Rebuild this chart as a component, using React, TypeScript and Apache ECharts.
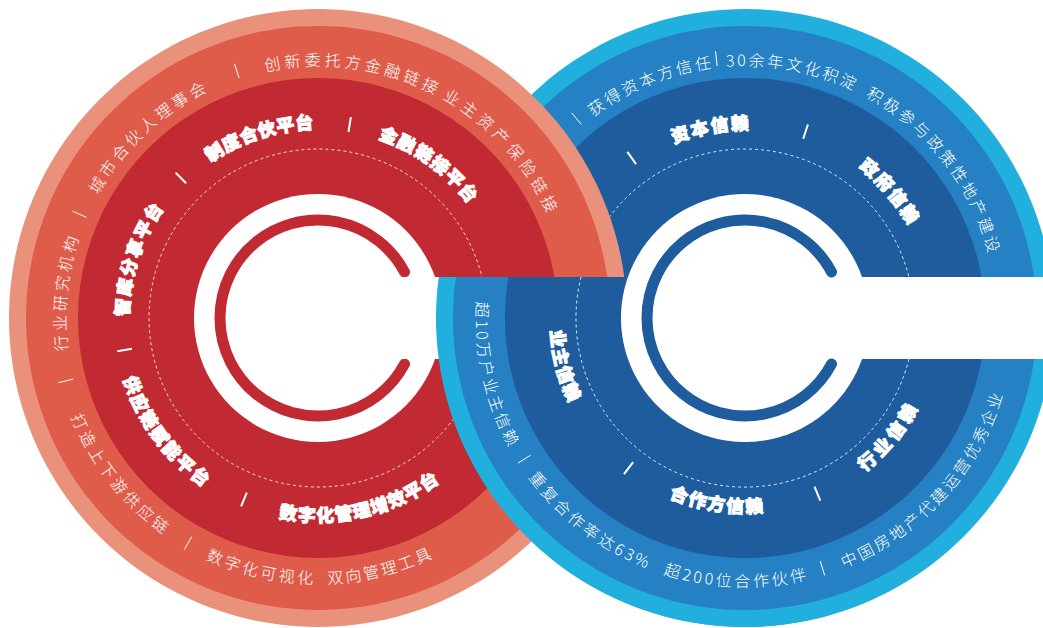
import React, { useEffect, useRef } from "react";
import * as echarts from "echarts";

// ---------- data (texts) ----------
const redOuterUpperTexts = ["行业研究机构", "城市合伙人理事会", "创新委托方金融链接", "业主资产保险链接"];
const redOuterLowerTexts = ["打造上下游供应链", "数字化可视化", "双向管理工具"];
const redInnerUpperTexts = ["智库分享平台", "制度合伙平台", "金融链接平台"];
const redInnerLowerTexts = ["供应链赋能平台", "数字化管理增效平台"];

const blueOuterUpperTexts = ["获得资本方信任", "30余年文化积淀", "积极参与政策性地产建设"];
const blueOuterLowerTexts = ["超10万户业主信赖", "重复合作率达63%", "超200位合作伙伴", "中国房地产代建运营优秀企业"];
const blueInnerUpperTexts = ["资本信赖", "政府信赖"];
const blueInnerLowerTexts = ["业主信赖", "合作方信赖", "行业信赖"];

// ---------- layout (angles in degrees, screen clockwise, 0 = right) ----------
const redOuterUpperStart = [174.4, 211, 259.8, 301.3];
const redOuterUpperStep = [4.44, 4.44, 4.5, 4.63];
const redOuterLowerStart = [156.5, 113.3, 86.2];
const redOuterLowerStep = [4.16, 4.1, 4.0];
const redOuterSep = [166, 203.5, 251.8, 120];
const redInnerUpperStart = [183.2, 238, 291.2];
const redInnerUpperStep = [5.9, 5.6, 5.8];
const redInnerLowerStart = [160.2, 98.6];
const redInnerLowerStep = [5.6, 5.34];
const redInnerSep = [225.6, 279.3, 170.6, 112.2];

const blueOuterUpperStart = [234.8, 266.7, 300.3];
const blueOuterUpperStep = [4.3, 4.2, 4.3];
const blueOuterLowerStart = [181.8, 142, 106, 66.7];
const blueOuterLowerStep = [4.0, 4.06, 4.06, 4.03];
const blueOuterSep = [229.8, 263.7, 147.4, 72.8];
const blueInnerUpperStart = [250.5, 309.7];
const blueInnerUpperStep = [6.0, 6.0];
const blueInnerLowerStart = [173.7, 110.4, 49.6];
const blueInnerLowerStep = [5.6, 5.8, 6.4];
const blueInnerSep = [234.7, 288, 127.8, 67.6];

const RED = { cx: 318, cy: 318, light: "#E9917B", mid: "#E05C4A", dark: "#C12A32" };
const BLUE = { cx: 745, cy: 318, light: "#21B0DE", mid: "#2581C3", dark: "#1E5C9E" };
const R_OUT = 309, R_MID = 292, R_DARK = 240, R_DASH = 169, R_HOLE = 124, R_C = 98;
const SLOT = 41;
const FONT = "'Noto Sans CJK SC', 'Noto Sans', sans-serif";
const deg = Math.PI / 180;

function charW(ch: string) {
  if (ch === " ") return 0.5;
  if (/[0-9]/.test(ch)) return 0.6;
  if (ch === "%") return 0.85;
  return 1;
}

function buildElements() {
  const els: any[] = [];

  const disc = (cx: number, cy: number, r: number, fill: string) =>
    els.push({ type: "circle", shape: { cx, cy, r }, style: { fill } });

  const segment = (cx: number, cy: number, r: number, yMin: number, fill: string) => {
    const a1 = Math.asin((yMin - cy) / r);
    const a2 = Math.PI - a1;
    const pts: number[][] = [];
    const n = 160;
    for (let i = 0; i <= n; i++) {
      const a = a1 + ((a2 - a1) * i) / n;
      pts.push([cx + r * Math.cos(a), cy + r * Math.sin(a)]);
    }
    els.push({ type: "polygon", shape: { points: pts }, style: { fill } });
  };

  const dashArc = (cx: number, cy: number, a: number, b: number) =>
    els.push({
      type: "arc",
      shape: { cx, cy, r: R_DASH, startAngle: a * deg, endAngle: b * deg, clockwise: true },
      style: { stroke: "rgba(255,255,255,0.85)", lineWidth: 1, lineDash: [3, 3], fill: "none" },
    });

  const cArc = (cx: number, cy: number, color: string) =>
    els.push({
      type: "arc",
      shape: { cx, cy, r: R_C, startAngle: 28 * deg, endAngle: 332 * deg, clockwise: true },
      style: { stroke: color, lineWidth: 11, lineCap: "round", fill: "none" },
    });

  const sep = (cx: number, cy: number, r: number, phi: number, len: number, w: number) => {
    const c = Math.cos(phi * deg), s = Math.sin(phi * deg);
    els.push({
      type: "line",
      shape: { x1: cx + (r - len / 2) * c, y1: cy + (r - len / 2) * s, x2: cx + (r + len / 2) * c, y2: cy + (r + len / 2) * s },
      style: { stroke: "#fff", lineWidth: w },
    });
  };

  const ringText = (
    cx: number, cy: number, r: number, text: string, startDeg: number, step: number,
    upper: boolean, size: number, weight: any, heavy = false
  ) => {
    let off = 0;
    let prevW = 0;
    Array.from(text).forEach((ch, i) => {
      const w = charW(ch);
      if (i > 0) off += (prevW + w) / 2;
      prevW = w;
      if (ch === " ") return;
      const phi = upper ? startDeg + off * step : startDeg - off * step;
      const x = cx + r * Math.cos(phi * deg);
      const y = cy + r * Math.sin(phi * deg);
      const rot = upper ? -(phi - 270) * deg : -(phi - 90) * deg;
      const style: any = {
        text: ch, fill: "#fff", fontSize: size, fontWeight: weight, fontFamily: FONT,
        align: "center", verticalAlign: "middle", textAlign: "center", textVerticalAlign: "middle",
      };
      if (heavy) {
        style.stroke = "#fff";
        style.lineWidth = 0.9;
      }
      els.push({ type: "text", x, y, rotation: rot, style });
    });
  };

  const fullRing = (C: any) => {
    disc(C.cx, C.cy, R_OUT, C.light);
    disc(C.cx, C.cy, R_MID, C.mid);
    disc(C.cx, C.cy, R_DARK, C.dark);
    disc(C.cx, C.cy, R_HOLE, "#fff");
  };
  const slotRect = (C: any, w: number) =>
    els.push({ type: "rect", shape: { x: C.cx, y: C.cy - SLOT, width: w, height: SLOT * 2 }, style: { fill: "#fff" } });

  const dashEdge = Math.asin(SLOT / R_DASH) / deg;

  // ---- layer 1: blue ring (full) + upper decorations ----
  fullRing(BLUE);
  dashArc(BLUE.cx, BLUE.cy, 180 + dashEdge, 360 - dashEdge);
  slotRect(BLUE, 330);
  blueOuterUpperTexts.forEach((t, i) =>
    ringText(BLUE.cx, BLUE.cy, 259, t, blueOuterUpperStart[i], blueOuterUpperStep[i], true, 16, 300));
  blueInnerUpperTexts.forEach((t, i) =>
    ringText(BLUE.cx, BLUE.cy, 196, t, blueInnerUpperStart[i], blueInnerUpperStep[i], true, 18, 900, true));
  sep(BLUE.cx, BLUE.cy, 261, blueOuterSep[0], 15, 1);
  sep(BLUE.cx, BLUE.cy, 261, blueOuterSep[1], 15, 1);
  sep(BLUE.cx, BLUE.cy, 196, blueInnerSep[0], 15, 2);
  sep(BLUE.cx, BLUE.cy, 196, blueInnerSep[1], 15, 2);

  // ---- layer 2: red ring (full) ----
  fullRing(RED);
  dashArc(RED.cx, RED.cy, dashEdge, 360 - dashEdge);
  cArc(RED.cx, RED.cy, RED.dark);
  slotRect(RED, R_OUT);
  redOuterUpperTexts.forEach((t, i) =>
    ringText(RED.cx, RED.cy, 259, t, redOuterUpperStart[i], redOuterUpperStep[i], true, 16, 300));
  redOuterLowerTexts.forEach((t, i) =>
    ringText(RED.cx, RED.cy, 259, t, redOuterLowerStart[i], redOuterLowerStep[i], false, 16, 300));
  redInnerUpperTexts.forEach((t, i) =>
    ringText(RED.cx, RED.cy, 197, t, redInnerUpperStart[i], redInnerUpperStep[i], true, 18, 900, true));
  redInnerLowerTexts.forEach((t, i) =>
    ringText(RED.cx, RED.cy, 196, t, redInnerLowerStart[i], redInnerLowerStep[i], false, 18, 900, true));
  redOuterSep.forEach((a) => sep(RED.cx, RED.cy, 260, a, 15, 1));
  redInnerSep.forEach((a) => sep(RED.cx, RED.cy, 196, a, 15, 2));

  // ---- layer 3: blue lower half on top ----
  const yCut = BLUE.cy - SLOT;
  segment(BLUE.cx, BLUE.cy, R_OUT, yCut, BLUE.light);
  segment(BLUE.cx, BLUE.cy, R_MID, yCut, BLUE.mid);
  segment(BLUE.cx, BLUE.cy, R_DARK, yCut, BLUE.dark);
  segment(BLUE.cx, BLUE.cy, R_HOLE, yCut, "#fff");
  slotRect(BLUE, 330);
  dashArc(BLUE.cx, BLUE.cy, dashEdge, 180 + dashEdge);
  cArc(BLUE.cx, BLUE.cy, BLUE.dark);
  blueOuterLowerTexts.forEach((t, i) =>
    ringText(BLUE.cx, BLUE.cy, 262, t, blueOuterLowerStart[i], blueOuterLowerStep[i], false, 16, 300));
  blueInnerLowerTexts.forEach((t, i) =>
    ringText(BLUE.cx, BLUE.cy, 187, t, blueInnerLowerStart[i], blueInnerLowerStep[i], false, 18, 900, true));
  sep(BLUE.cx, BLUE.cy, 262, blueOuterSep[2], 15, 1);
  sep(BLUE.cx, BLUE.cy, 262, blueOuterSep[3], 15, 1);
  sep(BLUE.cx, BLUE.cy, 190, blueInnerSep[2], 15, 2);
  sep(BLUE.cx, BLUE.cy, 190, blueInnerSep[3], 15, 2);

  return els;
}

export default function App() {
  const ref = useRef<HTMLDivElement>(null);
  useEffect(() => {
    if (!ref.current) return;
    const chart = echarts.init(ref.current, undefined, { renderer: "svg" });
    chart.setOption({
      animation: false,
      backgroundColor: "#ffffff",
      graphic: { elements: buildElements() },
    });
    return () => chart.dispose();
  }, []);
  return (
    <div
      ref={ref}
      style={{ position: "fixed", left: 0, top: 0, width: 1043, height: 628, background: "#fff" }}
    />
  );
}
